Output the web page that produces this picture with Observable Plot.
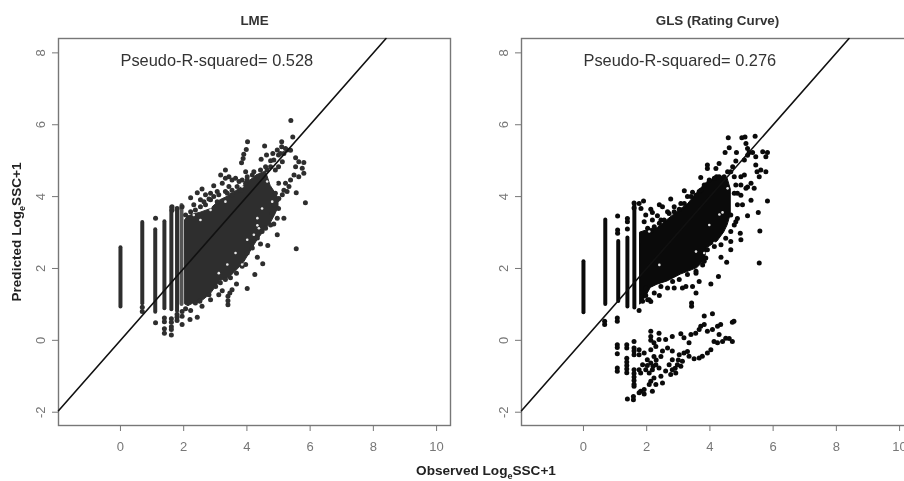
<!DOCTYPE html>
<html><head><meta charset="utf-8">
<script src="https://cdn.jsdelivr.net/npm/d3@7"></script>
<script src="https://cdn.jsdelivr.net/npm/@observablehq/plot@0.6"></script>
<style>
html,body{margin:0;padding:0;background:#fff;overflow:hidden}
#page{position:relative;width:904px;height:481px;overflow:hidden;filter:blur(0.5px)}
#page svg{position:absolute;top:0;overflow:visible}
.lab{position:absolute;font:bold 13.6px "Liberation Sans",Arial,sans-serif;color:#222;white-space:nowrap}
.lab.y{font-size:13.6px}
.lab sub{font-size:9px;vertical-align:-4px;line-height:0}
</style></head><body><div id="page"></div>
<script>
const ticksX = [0, 2, 4, 6, 8, 10];
const ticksY = [-2, 0, 2, 4, 6, 8];
const domainX = [-1.96, 10.44];
const domainY = [-2.37, 8.4];
const titles = ["LME", "GLS (Rating Curve)"];
const r2Labels = ["Pseudo-R-squared= 0.528", "Pseudo-R-squared= 0.276"];

// LME: vertical stacks at the discrete low observed values
const lmeColX = [0, 0.69, 1.1, 1.39, 1.61, 1.79, 1.93];
const lmeColLo = [0.93, 1.02, 0.78, 0.88, 0.85, 0.8, 1.0];
const lmeColHi = [2.58, 3.28, 3.08, 3.3, 3.7, 3.62, 3.75];
const lmeColTone = ["#2e2e2e", "#2e2e2e", "#2e2e2e", "#2e2e2e", "#2e2e2e", "#2e2e2e", "#555"];
const lmeCoreX = [2.05, 2.15, 2.3, 2.53, 2.85, 3.16, 3.4, 3.58, 3.9, 4.33, 4.6, 4.75, 4.9, 5.0];
const lmeCoreLo = [1.0, 0.95, 1.02, 1.05, 1.28, 1.65, 1.72, 1.85, 2.15, 2.78, 3.1, 3.25, 3.5, 3.7];
const lmeCoreHi = [3.35, 3.45, 3.5, 3.55, 3.65, 3.9, 4.0, 4.1, 4.3, 4.6, 4.7, 4.3, 4.1, 3.95];
const lmeDots = [[5.39,6.12],[5.45,5.66],[4.02,5.53],[3.98,5.31],[3.9,5.18],[3.88,5.06],[3.83,4.94],[4.56,5.41],[5.1,5.53],[5.1,5.39],[4.62,5.16],[4.45,5.04],[4.82,5.2],[4.85,5.02],[5,5.16],[5.17,5.2],[5.27,5.3],[5.12,4.97],[5,4.83],[4.75,4.83],[4.64,4.74],[4.9,4.74],[5.54,5.08],[5.8,4.95],[5.64,4.97],[5.75,4.79],[5.54,4.83],[5.8,4.65],[5.64,4.55],[5.49,4.6],[5.38,4.46],[5.22,4.37],[5,4.37],[5.33,4.28],[5.17,4.18],[5.56,4.11],[5.85,3.83],[5,3.67],[5.17,3.4],[4.96,3.91],[4.8,3.54],[3.32,4.74],[3.17,4.6],[3.32,4.51],[3.43,4.55],[3.53,4.46],[3.64,4.51],[2.95,4.3],[3.22,4.37],[3.43,4.28],[3.96,4.69],[4.22,4.69],[4.01,4.55],[3.75,4.42],[3.96,4.37],[3.06,4.14],[3.32,4.14],[3.53,4.18],[3.8,4.18],[2.85,4.09],[2.22,3.97],[2.43,4.11],[2.58,4.21],[2.69,4.05],[2.53,3.91],[2.85,3.91],[3.06,3.86],[2.32,3.77],[2.69,3.77],[1.95,3.72],[1.79,3.67],[1.63,3.72],[1.63,3.62],[1.11,3.4],
[5.56,2.55],[4.96,2.94],[4.66,2.64],[4.43,2.68],[4.33,2.31],[4.5,2.13],[4.25,1.83],[4.01,1.44],[3.67,1.57],[3.53,1.41],[3.4,1.23],[3.4,0.99],[3.4,1.1],[3.46,1.32],[3.22,1.38],[3.11,1.27],[2.85,1.13],[2.58,0.95],[2.43,0.64],[2.2,0.58],[1.95,0.67],[1.95,0.44],[1.95,0.8],[1.79,0.64],[1.79,0.55],[1.79,0.72],[1.61,0.6],[1.61,0.5],[1.61,0.38],[1.61,0.3],[1.61,0.15],[1.39,0.62],[1.39,0.52],[1.39,0.32],[1.39,0.2],[1.11,0.49],[0.69,0.92],[0.69,0.8]];
const lmeEdge = [[2.06,0.88],[2.22,0.83],[2.37,1.04],[2.51,1.09],[2.8,1.27],[3.01,1.5],[3.16,1.6],[3.32,1.69],[3.48,1.74],[3.67,1.87],[3.85,2.06],[3.96,2.11],[4.01,2.43],[4.17,2.57],[4.12,2.75],[4.33,2.85],[4.48,3.03],[4.59,3.12],[4.85,3.24],
[2.06,3.49],[2.22,3.58],[2.37,3.63],[2.53,3.72],[2.64,3.86],[2.8,3.93],[2.95,4],[3.11,4.05],[3.38,4.09],[3.53,4.05],[3.69,4.28],[3.85,4.46],[4.01,4.46],[4.17,4.6],[4.33,4.55],[4.43,4.74],[4.59,4.83],[4.75,5],[4.96,5.3],[5.06,5.2],[5.22,5.34],[5.38,5.29],
[5.01,3.95],[5.12,4.05],[4.9,4.09],[5.27,4.14],[4.85,3.77],[4.96,3.4],[4.75,3.21]];
const lmeGaps = [[3.32,3.86],[2.85,3.72],[2.85,3.63],[2.32,3.49],[3.64,4.37],[3.85,4.28],[4.48,3.67],[4.33,3.4],[4.8,3.86],[4.64,4.42],[4.9,4.37],[5.12,4.3],[4.38,3.12],[2.53,3.35],[4.01,2.8],[4.22,2.94],[3.64,2.43],[3.38,2.11],[3.11,1.87],[4.33,3.2],[3.85,2.11]];

// GLS: same observed values, different predictions
const glsColX = [0, 0.69, 1.1, 1.39, 1.61];
const glsColLo = [0.77, 1.0, 1.08, 0.93, 0.9];
const glsColHi = [2.19, 3.35, 2.75, 2.85, 3.8];
const glsColTone = ["#0a0a0a", "#0a0a0a", "#0a0a0a", "#0a0a0a", "#0a0a0a"];
const glsCoreX = [1.8, 1.97, 2.13, 2.34, 2.66, 3.08, 3.29, 3.6, 3.82, 3.92, 4.24, 4.45, 4.56, 4.66];
const glsCoreLo = [1.0, 1.2, 1.46, 1.55, 1.64, 1.83, 1.9, 2.01, 2.2, 2.57, 2.75, 3.0, 3.2, 3.5];
const glsCoreHi = [3.0, 3.05, 3.1, 3.12, 3.35, 3.65, 3.77, 4.1, 4.32, 4.4, 4.55, 4.55, 4.5, 4.2];
const glsDots = [[4.58,5.64],[5.01,5.64],[5.11,5.66],[5.43,5.68],[4.61,5.36],[4.48,5.23],[5.14,5.48],[5.19,5.34],[4.84,5.23],[5.24,5.23],[5.19,5.15],[5.35,5.23],[5.67,5.25],[5.82,5.23],[5.45,5.11],[5.77,5.11],[5.09,5.02],[4.82,4.99],[3.92,4.88],[3.92,4.78],[4.29,4.92],[4.19,4.78],[3.71,4.53],[4.21,4.55],[4.72,4.83],[4.66,4.69],[4.98,4.55],[5.45,4.88],[5.49,4.69],[5.61,4.74],[5.77,4.69],[5.56,4.55],[5.09,4.6],[5.3,4.37],[4.98,4.32],[5.19,4.27],[5.4,4.23],[4.87,4.09],[5.3,3.9],[5.82,3.88],[5.03,3.77],[5.53,3.56],[5.19,3.47],[5.58,3.04],[4.96,2.98],[4.87,3.39],[4.77,3.21],[3.19,4.16],[3.45,4.12],[3.66,4.14],[3.29,4],[2.76,3.93],[2.4,3.77],[2.5,3.72],[1.9,3.88],[1.76,3.81],[1.6,3.82],[1.6,3.68],[2.13,3.65],[1.82,3.67],[2.18,3.56],[1.97,3.49],[2.34,3.47],[2.66,3.58],[2.87,3.72],[3.08,3.81],[1.39,3.39],[1.39,3.3],[1.08,3.46],[1.08,3.07],[1.08,2.98],[1.39,3.1],[1.92,3.3],[2.18,3.35],[2.45,3.35],[2.13,3.03],
[5.56,2.15],[4.98,2.8],[4.66,2.75],[4.66,2.52],[4.35,2.31],[4.53,2.17],[4.27,1.78],[4.03,1.57],[3.66,1.64],[3.56,1.87],[3.82,2.2],[3.45,1.5],[3.56,1.32],[3.24,1.5],[2.87,1.46],[3.13,1.46],[3.42,1.04],[3.42,0.95],[2.4,1.25],[2.13,1.08],[1.97,1.46],[1.97,1.25],[2.08,1.13],[1.76,0.83],
[4.71,0.5],[4.76,0.53],[4.08,0.74],[3.82,0.68],[0.67,0.44],[0.67,0.53],[1.07,0.62],[1.07,0.53],
[2.13,0.25],[2.13,0.11],[2.13,0],[2.39,0.2],[2.23,-0.07],[2.39,0.02],[2.6,0.02],[2.81,0.11],[3.08,0.18],[3.18,0.07],[3.4,0.16],[3.55,0.2],[3.71,0.39],[3.66,0.3],[3.82,0.44],[3.92,0.25],[4.08,0.3],[4.24,0.39],[4.34,0.44],[4.29,0.16],
[4.71,-0.03],[4.61,0.05],[4.5,0.06],[4.4,-0.03],[4.24,-0.07],[4.13,-0.03],[4.03,-0.26],[3.92,-0.35],[3.76,-0.44],[3.66,-0.49],[3.5,-0.51],[3.34,-0.44],[3.29,-0.31],[3.08,-0.72],[2.92,-0.91],[2.76,-0.95],
[1.6,-0.03],[1.6,-0.21],[1.6,-0.3],[1.6,-0.4],[1.76,-0.26],[1.76,-0.4],[1.92,-0.35],[2.13,-0.26],[2.29,-0.17],[2.5,-0.3],[2.66,-0.21],[2.81,-0.3],[3.03,-0.4],[3.18,-0.35],[3.34,-0.07],[2.45,-0.45],[2.23,-0.45],[2.02,-0.54],[1.87,-0.68],[2.13,-0.63],[2.29,-0.68],[2.39,-0.77],[2.18,-0.82],[1.97,-0.82],[1.76,-0.82],[1.81,-0.91],[2.08,-0.91],[2.13,-1.14],[2.23,-1.05],[2.45,-1],[2.5,-1.19],[2.29,-1.23],[2.08,-1.23],[2.81,-0.82],[2.97,-0.68],[3.13,-0.58],[2.71,-0.68],[2.81,-0.54],[2.02,-0.7],[2.2,-0.72],[2.3,-0.55],[2.6,-0.85],[2.9,-0.78],[3.0,-0.55],
[1.07,-0.12],[1.07,-0.2],[1.07,-0.37],[1.07,-0.77],[1.07,-0.86],[1.37,-0.12],[1.37,-0.21],[1.37,-0.5],[1.37,-0.6],[1.37,-0.7],[1.37,-0.8],[1.37,-0.9],[1.6,-0.82],[1.6,-0.92],[1.6,-1.02],[1.6,-1.12],[1.6,-1.22],[1.6,-1.28],
[1.39,-1.63],[1.58,-1.56],[1.58,-1.65],[1.81,-1.42],[1.92,-1.37],[1.76,-1.46],[1.92,-1.49],[2.18,-1.42]];
const glsEdge = [[2.03,3.12],[2.24,3.16],[2.4,3.26],[2.55,3.35],[2.71,3.53],[2.87,3.58],[3.03,3.65],[3.19,3.81],[3.4,4],[3.56,4.04],[3.71,4.18],[3.82,4.32],[3.98,4.46],[4.14,4.51],[4.29,4.55],[4.45,4.55],[4.56,4.69],[4.77,4.55],[4.82,4.32],[4.77,4.09],[4.98,4.04],[5.14,4.23],[4.87,3.77],[4.66,3.49],[4.82,3.3],[4.66,3.03],
[1.87,1.09],[2.03,1.13],[2.24,1.32],[2.45,1.5],[2.66,1.46],[2.82,1.64],[3.03,1.69],[3.29,1.83],[3.56,1.92],[3.77,2.1],[3.87,2.29],[3.92,2.52],[4.14,2.61],[4.35,2.66],[4.5,2.84]];
const glsGaps = [[4.4,3.56],[4.77,3.86],[4.56,4.23],[3.98,3.21],[2.08,3.03],[3.56,2.47],[4.14,2.71],[3.82,2.43],[4.3,3.5],[2.4,2.1]];

function zip(xs, a, b, t) { return xs.map((x, i) => ({x, lo: a[i], hi: b[i], tone: t[i]})); }

function panel(left, title, label, cols, core, dots, gaps, color) {
  const svg = Plot.plot({
    width: 452, height: 481,
    marginLeft: 58, marginRight: 2, marginTop: 38, marginBottom: 56,
    x: {domain: domainX, label: null},
    y: {domain: domainY, label: null},
    style: {background: "transparent", overflow: "visible"},
    marks: [
      Plot.frame({stroke: "#777", strokeWidth: 1.4}),
      Plot.axisX({ticks: ticksX, tickSize: 6, tickPadding: 10, fontSize: 13, stroke: "#777", color: "#777", label: null, tickFormat: d => d}),
      Plot.axisY({ticks: ticksY, tickSize: 6, tickPadding: 8, fontSize: 13, stroke: "#777", color: "#777", label: null, tickRotate: -90, textAnchor: "middle", tickFormat: d => d}),
      Plot.areaY(core, {x: "x", y1: "lo", y2: "hi", fill: color, stroke: color, strokeWidth: 1}),
      Plot.ruleX(cols, {x: "x", y1: "lo", y2: "hi", stroke: "tone", strokeWidth: 4, strokeLinecap: "round"}),
      Plot.dot(dots, {x: d => d[0], y: d => d[1], r: 2.5, fill: color}),
      Plot.dot(gaps, {x: d => d[0], y: d => d[1], r: 1.3, fill: "#fff", fillOpacity: 0.9}),
      Plot.line([[domainX[0], domainX[0]], [domainY[1], domainY[1]]], {x: d => d[0], y: d => d[1], stroke: "#111", strokeWidth: 1.6}),
      Plot.text([label], {x: 0, y: 7.78, text: d => d, textAnchor: "start", fontSize: 16.4, fill: "#333", fontFamily: "Liberation Sans"}),
      Plot.text([title], {frameAnchor: "top", dy: -23, text: d => d, fontSize: 13.4, fontWeight: "bold", fill: "#333", fontFamily: "Liberation Sans"})
    ]
  });
  svg.style.left = left + "px";
  svg.style.fontFamily = "Liberation Sans";
  return svg;
}

const page = document.getElementById("page");
page.append(panel(0, titles[0], r2Labels[0], zip(lmeColX, lmeColLo, lmeColHi, lmeColTone), zip(lmeCoreX, lmeCoreLo, lmeCoreHi, lmeColTone), lmeDots.concat(lmeEdge), lmeGaps, "#2e2e2e"));
page.append(panel(462.5, titles[1], r2Labels[1], zip(glsColX, glsColLo, glsColHi, glsColTone), zip(glsCoreX, glsCoreLo, glsCoreHi, glsColTone), glsDots.concat(glsEdge), glsGaps, "#0a0a0a"));

const xl = document.createElement("div");
xl.className = "lab";
xl.innerHTML = "Observed Log<sub>e</sub>SSC+1";
xl.style.cssText = "left:486px;top:470px;transform:translate(-50%,-50%)";
const yl = document.createElement("div");
yl.className = "lab y";
yl.innerHTML = "Predicted Log<sub>e</sub>SSC+1";
yl.style.cssText = "left:16px;top:232px;transform:translate(-50%,-50%) rotate(-90deg)";
page.append(xl, yl);
</script></body></html>
